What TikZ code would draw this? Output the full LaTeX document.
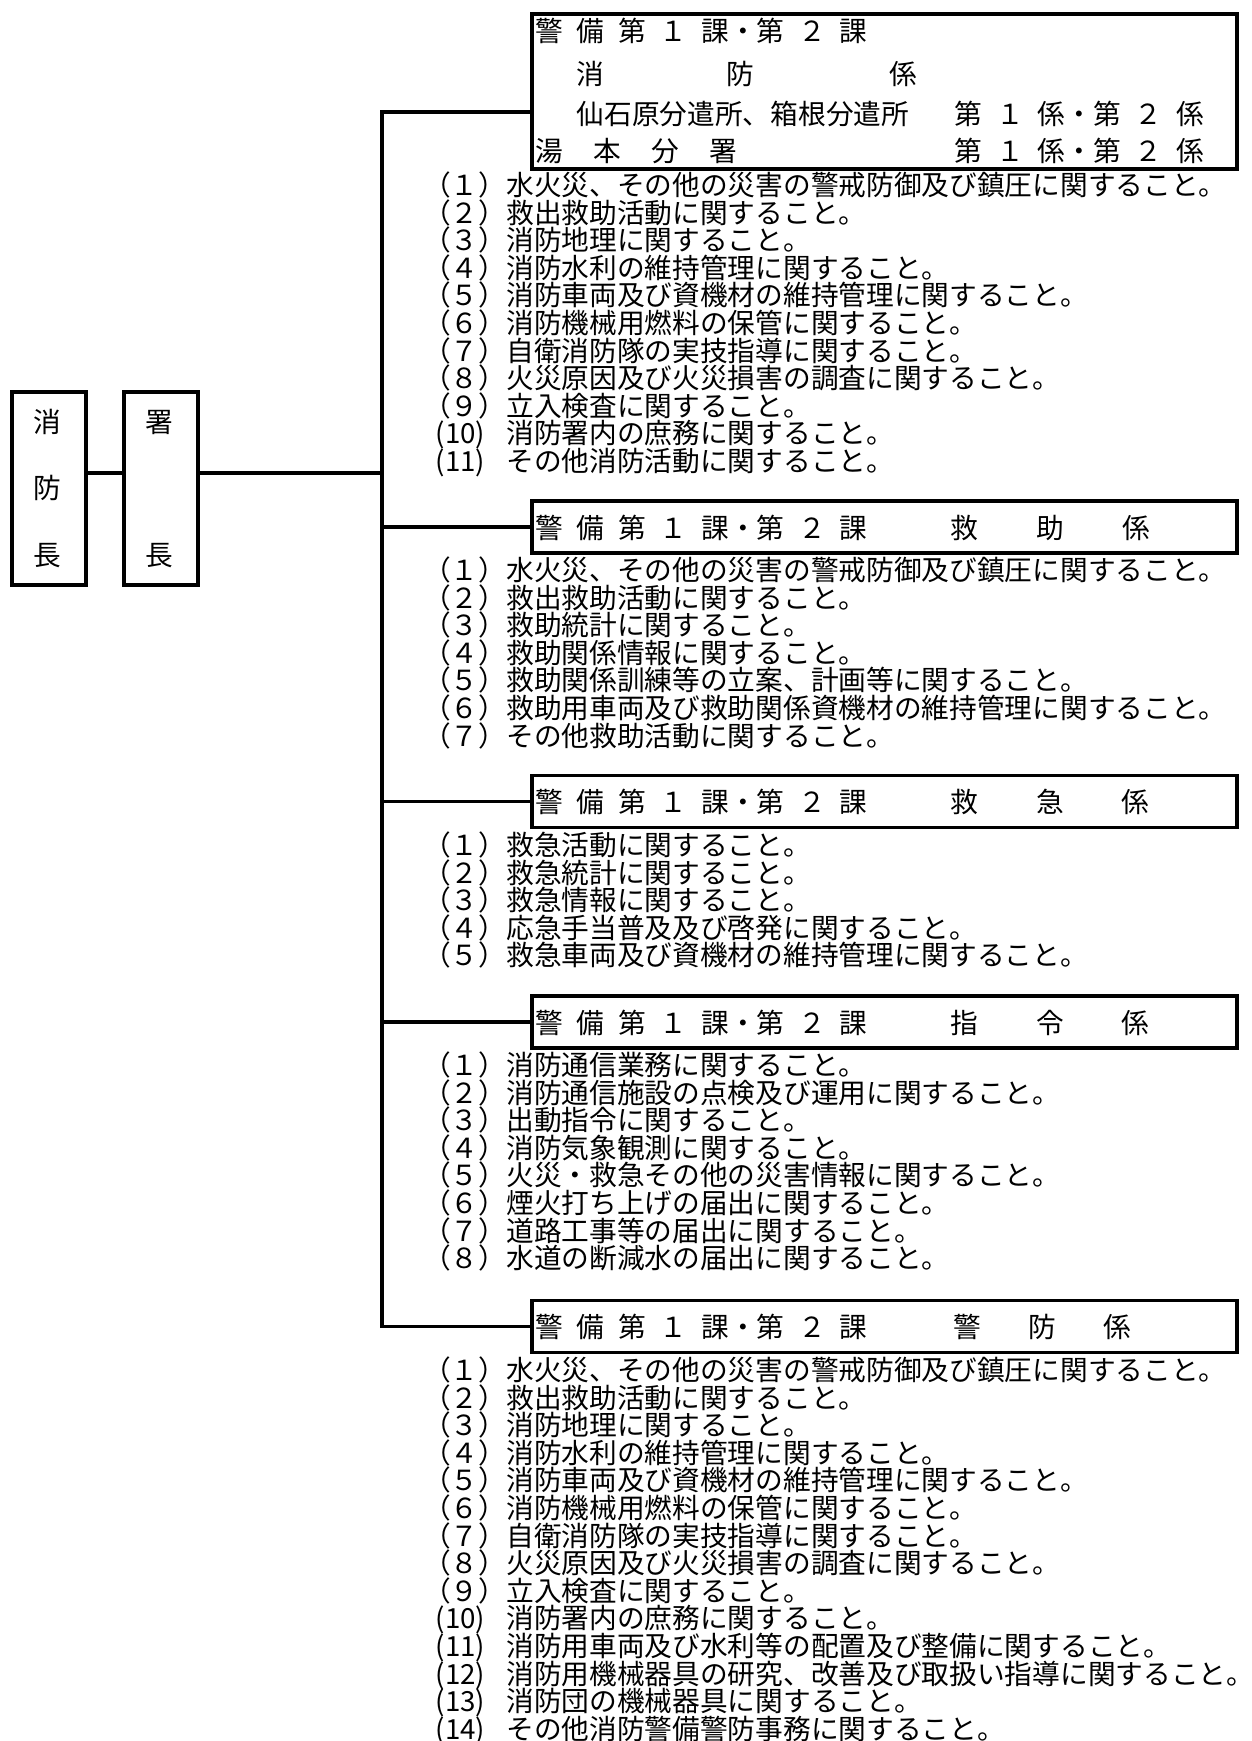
\documentclass[tikz,border=0pt]{standalone}
\usepackage{fontspec}
\setmainfont{Noto Sans CJK JP}
\newcommand\fsz{\fontsize{27.7}{27.7}\selectfont}
\newcommand\hs{\hspace{0.5em}}
\newcommand\lab[1]{\makebox[3em][l]{（#1）}}
\newcommand\labb[1]{\makebox[3em][l]{\hspace{0.45em}(#1)}}
\newcommand\head{警\hs 備\hs 第\hs １\hs 課・第\hs ２\hs 課}
\newcommand\itemlist[3]{\foreach \t [count=\i] in {#3} {\node[item] (#1-\i) at (423,{#2+27.6*(\i-1)}) {\t};}}
\begin{document}
\begin{tikzpicture}[x=1pt,y=-1pt,
  box/.style={draw, line width=3.5pt, inner sep=0pt, rectangle},
  txt/.style={anchor=base west, inner sep=0pt, font=\fsz},
  ctxt/.style={anchor=base, inner sep=0pt, font=\fsz},
  conn/.style={line width=3.5pt},
  item/.style={anchor=base west, inner sep=0pt, font=\fsz}]
\useasboundingbox (0,0) rectangle (1252,1741);

% left boxes
\node[box, anchor=north west, minimum width=74, minimum height=193] (cho) at (10,390) {};
\node[box, anchor=north west, minimum width=74, minimum height=193] (sho) at (122,390) {};
\node[ctxt] (cho1) at (47,432.5) {消};
\node[ctxt] (cho2) at (47,498.5) {防};
\node[ctxt] (cho3) at (47,565.5) {長};
\node[ctxt] (sho1) at (159,432.5) {署};
\node[ctxt] (sho2) at (159,565.5) {長};

% section boxes
\node[box, anchor=north west, minimum width=705, minimum height=155] (b1) at (530,12) {};
\node[box, anchor=west, minimum width=705, minimum height=52] (b2) at (530,527) {};
\node[box, anchor=west, minimum width=705, minimum height=52] (b3) at (530,801.5) {};
\node[box, anchor=west, minimum width=705, minimum height=52] (b4) at (530,1022) {};
\node[box, anchor=west, minimum width=705, minimum height=52] (b5) at (530,1326.5) {};

% box texts
\node[txt] (r1) at (535,41.5) {\head};
\node[txt] (r2) at (535,84.5) {\hspace{1.5em}消\hspace{4.4em}防\hspace{4.9em}係};
\node[txt] (r3) at (535,124.5) {\hspace{1.5em}仙石原分遣所、箱根分遣所\hspace{1.65em}第\hs １\hs 係・第\hs ２\hs 係};
\node[txt] (r4) at (535,161.5) {湯\hspace{1.1em}本\hspace{1.1em}分\hspace{1.1em}署\hspace{7.85em}第\hs １\hs 係・第\hs ２\hs 係};
\node[txt] (h2) at (535,538) {\head\hspace{3.0em}救\hspace{2.1em}助\hspace{2.1em}係};
\node[txt] (h3) at (535,812.5) {\head\hspace{3.0em}救\hspace{2.1em}急\hspace{2.05em}係};
\node[txt] (h4) at (535,1033) {\head\hspace{3.0em}指\hspace{2.1em}令\hspace{2.05em}係};
\node[txt] (h5) at (535,1337.5) {\head\hspace{3.1em}警\hspace{1.7em}防\hspace{1.7em}係};

% connectors
\coordinate (ya) at (0,473);
\coordinate (ttop) at (382,112);
\coordinate (tmid) at (382,473);
\coordinate (tbot) at (382,1326.5);
\draw[conn] (cho.east |- ya) -- (sho.west |- ya);
\draw[conn] (sho.east |- ya) -- (tmid);
\draw[conn] (b1.west |- ttop) -- (ttop) -- (tbot) -- (b5.west);
\draw[conn] (b2.west) -- (b2.west -| ttop);
\draw[conn] (b3.west) -- (b3.west -| ttop);
\draw[conn] (b4.west) -- (b4.west -| ttop);

% lists
\itemlist{La}{195.5}{
 {\lab{１}水火災、その他の災害の警戒防御及び鎮圧に関すること。},
 {\lab{２}救出救助活動に関すること。},
 {\lab{３}消防地理に関すること。},
 {\lab{４}消防水利の維持管理に関すること。},
 {\lab{５}消防車両及び資機材の維持管理に関すること。},
 {\lab{６}消防機械用燃料の保管に関すること。},
 {\lab{７}自衛消防隊の実技指導に関すること。},
 {\lab{８}火災原因及び火災損害の調査に関すること。},
 {\lab{９}立入検査に関すること。},
 {\labb{10}消防署内の庶務に関すること。},
 {\labb{11}その他消防活動に関すること。}}
\itemlist{Lb}{580.5}{
 {\lab{１}水火災、その他の災害の警戒防御及び鎮圧に関すること。},
 {\lab{２}救出救助活動に関すること。},
 {\lab{３}救助統計に関すること。},
 {\lab{４}救助関係情報に関すること。},
 {\lab{５}救助関係訓練等の立案、計画等に関すること。},
 {\lab{６}救助用車両及び救助関係資機材の維持管理に関すること。},
 {\lab{７}その他救助活動に関すること。}}
\itemlist{Lc}{855.5}{
 {\lab{１}救急活動に関すること。},
 {\lab{２}救急統計に関すること。},
 {\lab{３}救急情報に関すること。},
 {\lab{４}応急手当普及及び啓発に関すること。},
 {\lab{５}救急車両及び資機材の維持管理に関すること。}}
\itemlist{Ld}{1075.5}{
 {\lab{１}消防通信業務に関すること。},
 {\lab{２}消防通信施設の点検及び運用に関すること。},
 {\lab{３}出動指令に関すること。},
 {\lab{４}消防気象観測に関すること。},
 {\lab{５}火災・救急その他の災害情報に関すること。},
 {\lab{６}煙火打ち上げの届出に関すること。},
 {\lab{７}道路工事等の届出に関すること。},
 {\lab{８}水道の断減水の届出に関すること。}}
\itemlist{Le}{1380.5}{
 {\lab{１}水火災、その他の災害の警戒防御及び鎮圧に関すること。},
 {\lab{２}救出救助活動に関すること。},
 {\lab{３}消防地理に関すること。},
 {\lab{４}消防水利の維持管理に関すること。},
 {\lab{５}消防車両及び資機材の維持管理に関すること。},
 {\lab{６}消防機械用燃料の保管に関すること。},
 {\lab{７}自衛消防隊の実技指導に関すること。},
 {\lab{８}火災原因及び火災損害の調査に関すること。},
 {\lab{９}立入検査に関すること。},
 {\labb{10}消防署内の庶務に関すること。},
 {\labb{11}消防用車両及び水利等の配置及び整備に関すること。},
 {\labb{12}消防用機械器具の研究、改善及び取扱い指導に関すること。},
 {\labb{13}消防団の機械器具に関すること。},
 {\labb{14}その他消防警備警防事務に関すること。}}
\end{tikzpicture}
\end{document}
